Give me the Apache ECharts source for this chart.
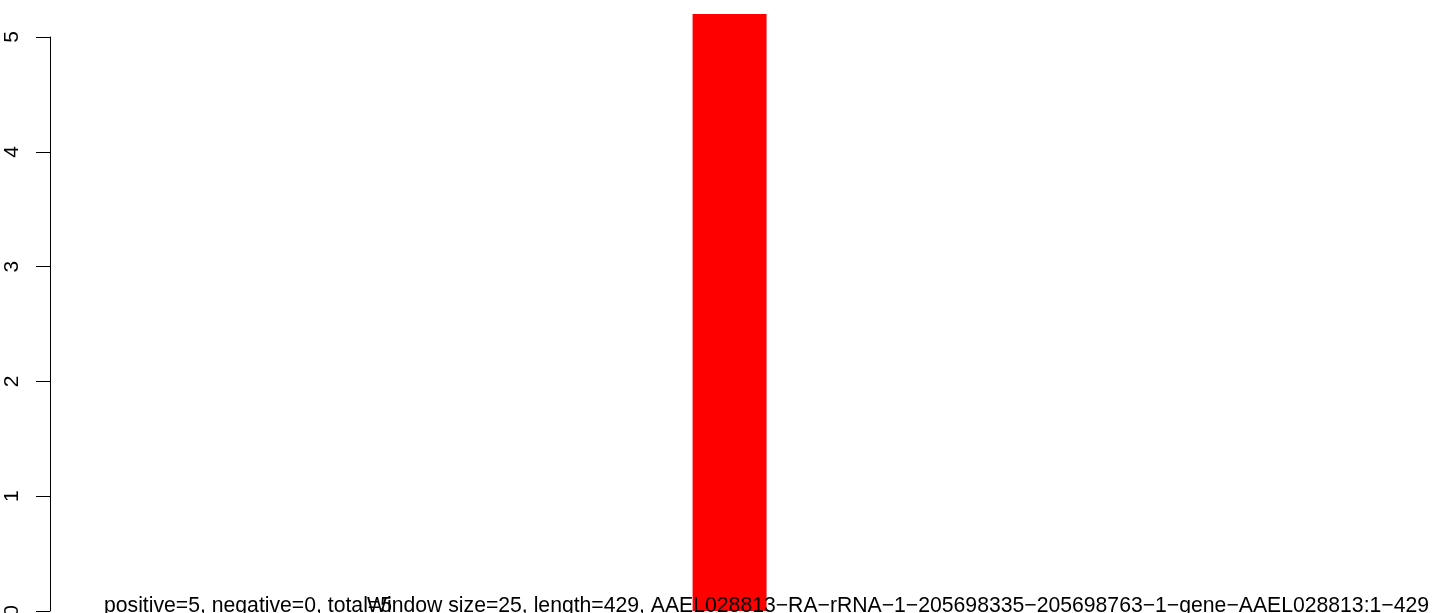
<!DOCTYPE html>
<html>
<head>
<meta charset="utf-8">
<script src="https://cdn.jsdelivr.net/npm/echarts@6/dist/echarts.min.js"></script>
<style>
html,body{margin:0;padding:0;background:#fff;}
#c{width:1444px;height:613px;}
</style>
</head>
<body>
<div id="c"></div>
<script>
// Data
var windowStarts = [200];
var windowEnds = [225];
var barValues = [5.2];
var yTicks = [0, 1, 2, 3, 4, 5];
var seqLength = 429;
var statsText = 'positive=5, negative=0, total=5';
var titleText = 'Window size=25, length=429, AAEL028813\u2212RA\u2212rRNA\u22121\u2212205698335\u2212205698763\u22121\u2212gene\u2212AAEL028813:1\u2212429';

var barData = windowStarts.map(function (s, i) { return [s, windowEnds[i], barValues[i]]; });
var pad = seqLength * 0.04;
var FONT = '"Liberation Sans", Arial, sans-serif';

var chart = echarts.init(document.getElementById('c'), null, {renderer: 'canvas'});
chart.setOption({
  animation: false,
  backgroundColor: '#ffffff',
  grid: {left: 50, right: 23, top: 37, bottom: 2, containLabel: false, outerBoundsMode: 'none'},
  xAxis: {
    type: 'value', min: -pad, max: seqLength + pad, show: false
  },
  yAxis: {
    type: 'value', min: 0, max: 5, interval: 1,
    axisLine: {show: true, onZero: false, lineStyle: {color: '#000', width: 1}},
    axisTick: {show: true, length: 14, customValues: yTicks, lineStyle: {color: '#000', width: 1}},
    splitLine: {show: false},
    axisLabel: {
      rotate: 90, margin: 27, color: '#000', fontSize: 21,
      customValues: yTicks,
      fontFamily: FONT
    }
  },
  series: [{
    type: 'custom',
    clip: false,
    data: barData,
    renderItem: function (params, api) {
      var p0 = api.coord([api.value(0), 0]);
      var p1 = api.coord([api.value(1), api.value(2)]);
      return {
        type: 'rect',
        shape: {x: p0[0], y: p1[1], width: p1[0] - p0[0], height: p0[1] - p1[1]},
        style: {fill: '#ff0000'}
      };
    }
  }],
  graphic: [
    {type: 'text', x: 104, y: 617, z: 10, style: {text: statsText, fill: '#000', font: '21.2px ' + FONT, verticalAlign: 'bottom'}},
    {type: 'text', x: 367, y: 617, z: 10, style: {text: titleText, fill: '#000', font: '21.2px ' + FONT, verticalAlign: 'bottom'}}
  ]
});
</script>
</body>
</html>
